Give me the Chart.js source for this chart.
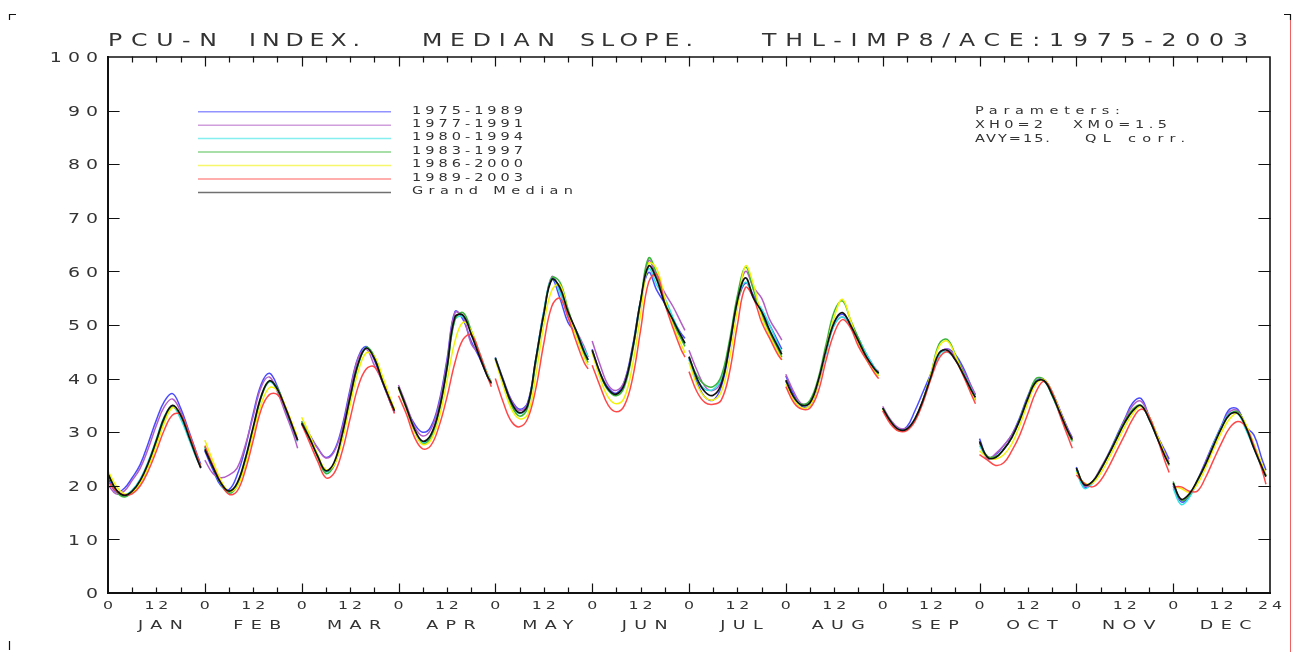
<!DOCTYPE html>
<html>
<head>
<meta charset="utf-8">
<title>PCU-N index, median slope</title>
<script src="https://cdn.jsdelivr.net/npm/chart.js@4.4.1/dist/chart.umd.min.js"></script>
<style>
  html, body { margin: 0; padding: 0; background: #fff; }
  #wrap { position: relative; width: 1300px; height: 652px; }
</style>
</head>
<body>
<div id="wrap"><canvas id="chart" width="1300" height="652"></canvas></div>
<script>
'use strict';

// ── Data ─────────────────────────────────────────────────────────────────────
// Hours of the day sampled in each month; one row of values per month.
const HOURS  = [0, 2, 4, 6, 8, 10, 12, 14, 16, 18, 20, 22, 23];
const MONTHS = ['JAN', 'FEB', 'MAR', 'APR', 'MAY', 'JUN', 'JUL', 'AUG', 'SEP', 'OCT', 'NOV', 'DEC'];
const Y_TICKS = [0, 10, 20, 30, 40, 50, 60, 70, 80, 90, 100];
const X_TICKS = [0, 12, 24, 36, 48, 60, 72, 84, 96, 108, 120, 132, 144,
                 156, 168, 180, 192, 204, 216, 228, 240, 252, 264, 276, 288];

const P1975_1989 = [
  [21.5, 18.8, 19.5, 21.5, 24.0, 28.0, 32.3, 35.8, 37.2, 34.5, 30.3, 26.0, 24.0],
  [26.5, 23.0, 20.0, 19.3, 22.0, 27.0, 33.5, 39.0, 41.0, 38.5, 34.0, 30.0, 28.3],
  [32.0, 29.5, 27.0, 25.3, 26.5, 31.0, 38.0, 44.0, 46.0, 43.5, 39.3, 35.5, 33.8],
  [38.5, 34.5, 31.5, 30.0, 31.0, 35.5, 43.5, 52.5, 51.0, 47.0, 44.0, 40.5, 39.0],
  [44.0, 39.8, 36.0, 34.3, 35.5, 43.5, 52.5, 58.5, 55.0, 50.5, 48.5, 45.0, 43.5],
  [45.5, 41.0, 38.3, 37.3, 39.5, 46.0, 54.5, 59.8, 56.5, 54.0, 51.0, 48.5, 47.5],
  [43.8, 39.3, 36.5, 36.0, 38.5, 45.5, 54.0, 57.8, 55.5, 52.5, 50.0, 47.0, 45.5],
  [40.5, 37.0, 34.8, 35.0, 39.0, 45.0, 50.5, 52.0, 50.3, 47.5, 44.5, 42.0, 41.0],
  [34.5, 32.0, 30.5, 31.0, 34.0, 37.5, 41.0, 44.5, 45.5, 44.5, 42.0, 38.5, 37.0],
  [28.8, 25.3, 25.8, 27.5, 29.5, 32.8, 36.8, 39.6, 39.8, 37.5, 34.0, 30.5, 29.0],
  [23.5, 19.8, 20.5, 23.0, 26.0, 29.3, 32.5, 35.5, 36.3, 33.0, 29.5, 26.5, 25.0],
  [20.0, 17.0, 18.0, 21.0, 24.5, 28.0, 31.3, 34.3, 34.3, 31.0, 29.5, 25.0, 22.9],
];
const P1977_1991 = [
  [20.2, 18.5, 19.0, 21.0, 23.3, 27.0, 31.3, 34.8, 36.2, 33.8, 29.8, 25.5, 23.5],
  [24.8, 22.3, 21.5, 22.0, 23.3, 27.5, 33.0, 38.5, 40.3, 37.5, 33.5, 29.5, 27.0],
  [31.5, 29.3, 27.0, 25.2, 26.3, 30.5, 37.5, 43.8, 45.5, 42.5, 39.5, 35.5, 33.6],
  [38.8, 35.0, 31.0, 29.3, 30.5, 35.0, 43.0, 52.3, 51.5, 46.5, 44.5, 41.0, 39.3],
  [43.6, 39.5, 35.8, 34.0, 35.3, 43.0, 52.0, 59.0, 56.5, 51.5, 49.0, 46.0, 44.0],
  [47.0, 42.5, 38.8, 37.8, 39.5, 45.5, 54.0, 62.0, 59.0, 56.0, 53.5, 50.5, 49.0],
  [45.3, 41.5, 38.5, 37.8, 39.5, 46.0, 55.0, 60.0, 57.0, 55.0, 51.0, 48.5, 47.2],
  [40.8, 37.5, 35.3, 35.8, 39.5, 45.3, 50.0, 51.5, 50.0, 47.0, 44.0, 42.0, 41.3],
  [34.8, 32.3, 30.8, 30.8, 32.5, 36.0, 40.5, 44.5, 45.5, 44.0, 41.5, 38.5, 37.0],
  [28.0, 25.0, 26.0, 27.5, 29.5, 32.5, 36.5, 39.5, 39.8, 37.5, 34.0, 30.3, 28.8],
  [23.0, 20.0, 20.8, 23.3, 26.0, 29.0, 32.3, 35.0, 35.8, 33.0, 29.5, 26.0, 24.5],
  [20.3, 17.3, 18.3, 21.0, 24.3, 27.8, 31.0, 33.8, 34.0, 31.0, 27.5, 23.8, 22.0],
];
const P1980_1994 = [
  [22.3, 19.2, 18.3, 19.2, 21.3, 24.6, 28.8, 33.0, 34.8, 32.5, 28.8, 25.0, 23.5],
  [27.0, 23.5, 20.3, 18.8, 20.3, 25.0, 31.0, 36.8, 39.4, 37.8, 34.3, 30.3, 28.3],
  [31.8, 28.8, 25.4, 22.6, 24.0, 29.2, 36.3, 42.6, 45.8, 44.0, 39.8, 36.0, 34.0],
  [38.3, 34.3, 30.2, 28.0, 29.3, 34.0, 42.0, 51.0, 51.5, 49.0, 45.0, 41.0, 39.3],
  [43.8, 39.3, 35.3, 33.5, 35.0, 43.5, 52.5, 58.8, 56.0, 52.0, 49.0, 45.5, 44.0],
  [45.0, 40.8, 37.8, 37.0, 39.0, 45.5, 54.5, 60.5, 57.5, 55.0, 51.5, 48.0, 46.5],
  [43.5, 39.8, 38.0, 38.0, 40.0, 46.5, 54.5, 58.0, 55.0, 53.0, 50.0, 46.5, 45.0],
  [39.5, 36.5, 35.0, 35.5, 39.5, 45.0, 50.0, 51.5, 50.0, 47.5, 44.5, 42.0, 41.0],
  [34.5, 32.0, 30.5, 30.6, 32.5, 36.0, 40.5, 44.5, 45.0, 43.5, 41.0, 38.0, 36.5],
  [27.5, 25.3, 25.3, 26.8, 29.0, 32.3, 36.3, 39.5, 39.5, 36.8, 33.3, 29.8, 28.3],
  [22.8, 19.5, 20.5, 23.0, 25.8, 28.8, 31.8, 34.0, 35.0, 32.5, 29.0, 25.5, 24.0],
  [19.5, 16.5, 17.8, 20.8, 24.0, 27.8, 31.0, 33.5, 33.5, 30.5, 27.0, 23.3, 21.8],
];
const P1983_1997 = [
  [22.5, 19.0, 17.9, 18.8, 20.6, 23.8, 28.0, 32.3, 34.7, 33.2, 29.5, 25.3, 23.4],
  [27.3, 23.6, 20.3, 18.6, 20.0, 24.5, 30.5, 36.5, 39.5, 38.2, 34.6, 30.6, 28.6],
  [32.0, 29.0, 25.3, 22.3, 23.7, 29.0, 36.0, 42.5, 45.8, 44.2, 40.0, 36.0, 34.1],
  [38.5, 34.5, 30.3, 27.8, 29.0, 33.5, 41.5, 51.0, 52.3, 49.0, 44.5, 40.5, 39.0],
  [43.8, 39.3, 35.0, 33.0, 34.5, 42.8, 52.0, 58.8, 58.0, 53.0, 48.5, 44.5, 43.0],
  [45.3, 40.8, 37.8, 36.8, 38.5, 45.0, 54.5, 62.5, 59.5, 54.5, 50.5, 47.5, 46.0],
  [44.0, 40.5, 38.8, 38.5, 40.5, 47.0, 55.5, 60.8, 56.5, 52.0, 48.5, 45.5, 44.0],
  [39.5, 36.5, 35.2, 36.0, 40.0, 46.5, 52.5, 54.5, 51.0, 47.5, 44.0, 41.5, 40.8],
  [34.5, 32.0, 30.3, 30.5, 32.3, 36.0, 41.0, 46.5, 47.3, 44.5, 41.0, 37.5, 36.0],
  [28.0, 25.5, 25.5, 26.8, 29.0, 32.5, 36.5, 40.0, 39.8, 36.8, 33.3, 29.8, 28.3],
  [23.3, 20.3, 20.8, 23.0, 25.8, 29.0, 32.0, 34.3, 35.0, 32.5, 29.0, 25.5, 23.8],
  [20.8, 17.3, 18.3, 21.0, 24.0, 27.5, 30.8, 33.3, 33.8, 31.3, 27.3, 23.5, 21.8],
];
const P1986_2000 = [
  [22.8, 20.0, 18.5, 18.8, 20.5, 23.5, 27.5, 31.8, 34.6, 33.3, 29.5, 25.5, 23.6],
  [28.5, 24.6, 21.0, 19.0, 19.8, 23.8, 29.8, 35.3, 38.3, 37.8, 34.8, 31.0, 29.0],
  [32.8, 29.5, 25.8, 23.0, 23.8, 28.3, 35.0, 41.3, 44.8, 44.2, 40.5, 36.3, 34.3],
  [38.2, 34.3, 30.0, 27.7, 28.5, 32.5, 39.5, 47.0, 50.5, 49.0, 44.8, 40.8, 39.2],
  [43.5, 38.5, 34.3, 32.5, 33.3, 40.5, 50.0, 56.5, 57.5, 52.5, 48.0, 44.0, 42.5],
  [44.8, 40.0, 36.5, 35.3, 36.5, 42.5, 52.0, 61.5, 60.5, 55.0, 50.0, 46.5, 44.8],
  [43.0, 38.8, 36.5, 36.0, 37.5, 43.5, 53.0, 61.0, 57.5, 51.5, 48.0, 45.0, 43.5],
  [39.0, 36.0, 34.5, 35.0, 39.0, 45.5, 51.5, 54.8, 51.0, 46.5, 43.5, 41.3, 40.5],
  [34.3, 31.8, 30.3, 30.5, 32.3, 36.0, 41.0, 46.0, 47.0, 44.3, 40.8, 37.3, 35.8],
  [26.5, 25.3, 25.0, 25.8, 27.8, 31.3, 35.5, 39.0, 39.8, 37.5, 33.8, 30.0, 28.5],
  [22.5, 20.5, 20.5, 22.3, 25.0, 28.0, 31.0, 33.5, 34.8, 33.0, 29.5, 25.8, 24.0],
  [20.0, 19.5, 18.8, 20.3, 23.3, 26.8, 30.0, 32.5, 33.5, 31.5, 27.8, 24.0, 22.0],
];
const P1989_2003 = [
  [20.8, 19.0, 18.3, 18.5, 20.0, 22.8, 26.5, 30.5, 33.2, 33.3, 30.0, 25.8, 23.5],
  [27.5, 23.8, 20.5, 18.4, 19.0, 22.8, 28.5, 34.3, 37.0, 37.0, 34.5, 30.5, 28.5],
  [31.5, 28.0, 24.5, 21.5, 22.3, 26.3, 32.5, 38.5, 41.8, 42.2, 39.5, 35.5, 33.5],
  [36.8, 33.3, 29.0, 26.9, 27.5, 31.0, 36.5, 43.0, 47.3, 48.2, 45.0, 40.5, 38.5],
  [40.0, 35.5, 32.0, 31.0, 32.5, 38.0, 46.5, 53.5, 55.0, 51.5, 47.0, 43.0, 41.8],
  [42.5, 38.5, 35.0, 33.8, 35.0, 40.0, 49.0, 58.0, 59.5, 54.0, 49.5, 45.5, 44.0],
  [41.3, 37.5, 35.5, 35.2, 36.0, 41.0, 50.0, 57.0, 55.0, 50.5, 47.5, 44.5, 43.5],
  [38.5, 35.5, 34.3, 34.5, 37.5, 43.5, 48.5, 51.0, 49.5, 46.0, 43.5, 41.0, 40.0],
  [34.0, 31.5, 30.2, 30.3, 32.0, 35.5, 40.0, 43.8, 45.0, 43.5, 40.5, 37.0, 35.3],
  [25.8, 24.8, 23.8, 24.3, 26.5, 29.5, 33.5, 37.5, 39.5, 37.5, 33.0, 29.0, 27.0],
  [22.0, 20.5, 19.8, 21.0, 23.5, 26.5, 29.5, 32.5, 34.3, 33.0, 29.0, 24.5, 22.5],
  [19.8, 19.8, 19.0, 19.0, 21.5, 24.8, 28.0, 30.8, 32.0, 31.0, 27.5, 23.0, 20.3],
];
const GRAND_MEDIAN = [
  [22.2, 19.3, 18.2, 19.0, 21.0, 24.3, 28.5, 32.8, 35.0, 33.2, 29.3, 25.2, 23.3],
  [26.8, 23.5, 20.5, 19.0, 20.5, 25.0, 31.0, 36.8, 39.6, 38.0, 34.5, 30.5, 28.5],
  [31.7, 28.8, 25.5, 22.8, 24.3, 29.5, 36.5, 42.8, 45.7, 43.8, 39.5, 35.8, 34.0],
  [38.4, 34.5, 30.5, 28.3, 29.5, 34.0, 42.0, 51.5, 51.8, 48.3, 44.3, 40.5, 39.2],
  [43.8, 39.5, 35.5, 33.6, 35.0, 43.5, 52.0, 58.5, 57.0, 52.5, 49.0, 45.0, 43.5],
  [45.3, 41.0, 38.0, 37.1, 39.0, 45.5, 54.5, 61.0, 58.5, 54.0, 51.0, 48.0, 46.6],
  [44.1, 40.0, 37.5, 36.9, 39.0, 46.0, 54.5, 58.8, 55.0, 52.5, 49.0, 46.0, 44.5],
  [39.7, 36.5, 35.0, 35.5, 39.5, 45.5, 50.5, 52.3, 50.0, 47.0, 44.0, 41.8, 41.0],
  [34.5, 32.0, 30.5, 30.6, 32.5, 36.0, 40.5, 44.8, 45.3, 43.5, 40.8, 37.8, 36.5],
  [28.3, 25.3, 25.3, 26.8, 29.0, 32.3, 36.3, 39.4, 39.6, 37.0, 33.5, 30.0, 28.6],
  [23.3, 20.2, 20.8, 23.0, 25.8, 28.8, 31.8, 34.0, 35.0, 32.5, 29.0, 25.5, 24.0],
  [20.5, 17.5, 18.5, 21.0, 24.0, 27.5, 30.8, 33.3, 33.5, 31.0, 27.0, 23.5, 21.7],
];

const SERIES = [
  { label: '1975-1989',    color: '#4b4bff', rows: P1975_1989 },
  { label: '1977-1991',    color: '#b25ec6', rows: P1977_1991 },
  { label: '1980-1994',    color: '#33e3e3', rows: P1980_1994 },
  { label: '1983-1997',    color: '#3cb43c', rows: P1983_1997 },
  { label: '1986-2000',    color: '#f2f20a', rows: P1986_2000 },
  { label: '1989-2003',    color: '#ff4848', rows: P1989_2003 },
  { label: 'Grand Median', color: '#111111', rows: GRAND_MEDIAN },
];

const FONT = '"DejaVu Sans", "Liberation Sans", sans-serif';
const INK  = '#333333';

// ── Helpers ──────────────────────────────────────────────────────────────────

// month rows → {x: hour of year, y}, with a null after each month so the
// segments stay separate
function toPoints(rows) {
  const pts = [];
  rows.forEach((vals, m) => {
    vals.forEach((v, i) => pts.push({ x: m * 24 + HOURS[i], y: v }));
    pts.push({ x: m * 24 + 23.6, y: null });
  });
  return pts;
}

// plotter-style lettering: glyphs widened by k, then tracked so the text
// runs from x to x + width
function spacedText(ctx, text, x, y, width, k) {
  ctx.save();
  ctx.translate(x, y);
  ctx.scale(k, 1);
  ctx.letterSpacing = '0px';
  const w = ctx.measureText(text).width;
  const gap = text.length > 1 ? Math.max(0, (width / k - w) / (text.length - 1)) : 0;
  ctx.letterSpacing = gap.toFixed(2) + 'px';
  ctx.fillText(text, 0, 0);
  ctx.restore();
}

// widened, tracked text placed by its centre (align 'center') or right end
function placedText(ctx, text, px, y, gap, k, align) {
  ctx.save();
  ctx.letterSpacing = '0px';
  const w = k * (ctx.measureText(text).width + gap * (text.length - 1));
  const x0 = align === 'right' ? px - w : px - w / 2;
  ctx.translate(x0, y);
  ctx.scale(k, 1);
  ctx.letterSpacing = gap + 'px';
  ctx.fillText(text, 0, 0);
  ctx.restore();
}

// ── Plugins ──────────────────────────────────────────────────────────────────

// box frame with inward tick marks on all four sides, plus the axis labels
const frame = {
  id: 'frame',
  afterDraw(chart) {
    const { ctx, chartArea: a, scales: { x, y } } = chart;
    ctx.save();
    ctx.strokeStyle = '#111';
    ctx.lineCap = 'square';

    ctx.lineWidth = 2;
    ctx.beginPath();
    ctx.moveTo(a.left, a.top); ctx.lineTo(a.left, a.bottom); ctx.lineTo(a.right, a.bottom);
    ctx.stroke();
    ctx.lineWidth = 1.6;
    ctx.beginPath();
    ctx.moveTo(a.left, a.top); ctx.lineTo(a.right, a.top); ctx.lineTo(a.right, a.bottom);
    ctx.stroke();

    ctx.lineWidth = 1.2;
    ctx.beginPath();
    for (let h = 6; h < 288; h += 6) {
      const px = Math.round(x.getPixelForValue(h)) + 0.5;
      const len = h % 24 === 0 ? 9 : 5;
      ctx.moveTo(px, a.bottom); ctx.lineTo(px, a.bottom - len);
      ctx.moveTo(px, a.top);    ctx.lineTo(px, a.top + len);
    }
    for (let v = 10; v < 100; v += 10) {
      const py = Math.round(y.getPixelForValue(v)) + 0.5;
      ctx.moveTo(a.left, py);  ctx.lineTo(a.left + 11, py);
      ctx.moveTo(a.right, py); ctx.lineTo(a.right - 11, py);
    }
    ctx.stroke();

    ctx.fillStyle = INK;
    ctx.textAlign = 'left';
    ctx.textBaseline = 'alphabetic';

    ctx.font = '14px ' + FONT;
    Y_TICKS.forEach(v => {
      placedText(ctx, String(v), 98, y.getPixelForValue(v) + 5.2, 4.5, 1.35, 'right');
    });

    ctx.font = '10.5px ' + FONT;
    X_TICKS.forEach(v => {
      const label = v === 288 ? '24' : (v % 24 === 0 ? '0' : '12');
      placedText(ctx, label, x.getPixelForValue(v), 609, 2.6, 1.5, 'center');
    });
    ctx.font = '12.5px ' + FONT;
    MONTHS.forEach((m, i) => {
      placedText(ctx, m, x.getPixelForValue(i * 24 + 12) + 4, 628.5, 5.3, 1.4, 'center');
    });
    ctx.restore();
  },
};

// title, line legend, parameter note and sheet corner marks
const annotations = {
  id: 'annotations',
  afterDraw(chart) {
    const ctx = chart.ctx;
    ctx.save();
    ctx.fillStyle = INK;
    ctx.textAlign = 'left';
    ctx.textBaseline = 'alphabetic';

    ctx.font = '17.5px ' + FONT;
    spacedText(ctx, 'PCU-N',  108, 46, 109, 1.35);
    spacedText(ctx, 'INDEX.', 249, 46, 111, 1.35);
    spacedText(ctx, 'MEDIAN', 422, 46, 133, 1.35);
    spacedText(ctx, 'SLOPE.', 580, 46, 113, 1.35);
    spacedText(ctx, 'THL-IMP8/ACE:1975-2003', 762, 46, 486, 1.35);

    // legend: long colour strokes with labels on the right
    ctx.font = '10px ' + FONT;
    chart.data.datasets.forEach((ds, i) => {
      const ly = 111.7 + i * 13.45;
      ctx.save();
      ctx.globalAlpha = 0.6;
      ctx.strokeStyle = ds.borderColor;
      ctx.lineWidth = 1.5;
      ctx.beginPath();
      ctx.moveTo(198, ly); ctx.lineTo(391, ly);
      ctx.stroke();
      ctx.restore();
      const w = ds.label === 'Grand Median' ? 161 : 111;
      spacedText(ctx, ds.label, 412, ly + 1.8, w, 1.45);
    });

    spacedText(ctx, 'Parameters:', 975, 113.5, 145, 1.45);
    spacedText(ctx, 'XH0=2',   975, 127.5, 68, 1.45);
    spacedText(ctx, 'XM0=1.5', 1073, 127.5, 94, 1.45);
    spacedText(ctx, 'AVY=15.', 975, 141.5, 75, 1.45);
    spacedText(ctx, 'QL corr.', 1085, 141.5, 100, 1.45);

    // corner marks of the sheet
    ctx.strokeStyle = '#111';
    ctx.lineWidth = 1.2;
    ctx.beginPath();
    ctx.moveTo(9.5, 20); ctx.lineTo(9.5, 14.5); ctx.lineTo(16, 14.5);
    ctx.moveTo(1284, 14.5); ctx.lineTo(1290.5, 14.5); ctx.lineTo(1290.5, 20);
    ctx.moveTo(9.5, 641); ctx.lineTo(9.5, 650);
    ctx.stroke();
    ctx.strokeStyle = '#f06060';
    ctx.lineWidth = 1;
    ctx.beginPath();
    ctx.moveTo(1290.5, 20); ctx.lineTo(1290.5, 652);
    ctx.stroke();
    ctx.restore();
  },
};

// ── Chart ────────────────────────────────────────────────────────────────────

const datasets = SERIES.map((s, i) => ({
  label: s.label,
  data: toPoints(s.rows),
  borderColor: s.color,
  backgroundColor: s.color,
  borderWidth: s.label === 'Grand Median' ? 1.7 : 1.5,
  pointRadius: 0,
  tension: 0.4,
  spanGaps: false,
  order: SERIES.length - i,
}));

new Chart(document.getElementById('chart'), {
  type: 'line',
  data: { datasets },
  options: {
    responsive: false,
    animation: false,
    events: [],
    layout: { padding: { top: 57, right: 30, bottom: 0, left: 0 } },
    plugins: {
      legend: { display: false },
      title: { display: false },
      tooltip: { enabled: false },
    },
    scales: {
      x: {
        type: 'linear',
        min: 0,
        max: 288,
        afterFit: s => { s.height = 59; },
        afterBuildTicks: s => { s.ticks = X_TICKS.map(v => ({ value: v })); },
        grid: { display: false, drawTicks: false },
        border: { display: false },
        ticks: { display: false },
      },
      y: {
        min: 0,
        max: 100,
        afterFit: s => { s.width = 108; },
        afterBuildTicks: s => { s.ticks = Y_TICKS.map(v => ({ value: v })); },
        grid: { display: false, drawTicks: false },
        border: { display: false },
        ticks: { display: false },
      },
    },
  },
  plugins: [frame, annotations],
});
</script>
</body>
</html>
